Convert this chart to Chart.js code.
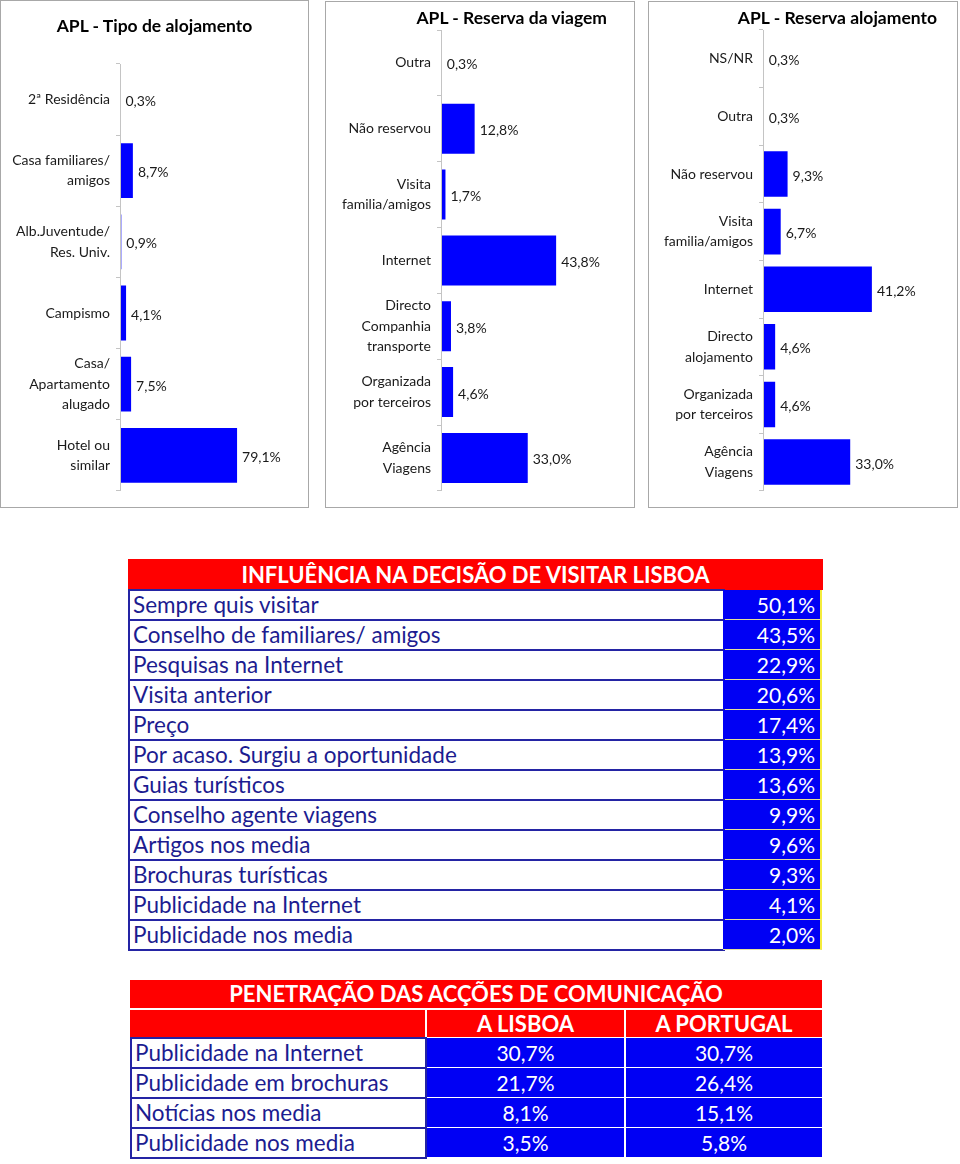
<!DOCTYPE html>
<html lang="pt">
<head>
<meta charset="UTF-8">
<title>APL - Alojamento e reserva</title>
<script src="https://cdn.jsdelivr.net/npm/chart.js"></script>
<style>
  body { margin: 0; width: 960px; height: 1164px; background: #fff; position: relative; font-family: Lato, "Open Sans", sans-serif; }
  .panel { position: absolute; border: 1px solid #a8a8a8; box-sizing: border-box; }
  .panel canvas { position: absolute; left: 0; top: 0; }
  .ptitle { position: absolute; font-weight: bold; font-size: 17.5px; line-height: 20px; color: #000; white-space: nowrap; }
  .cell { position: absolute; box-sizing: border-box; white-space: nowrap; font-size: 22.5px; line-height: 28px; }
  .head { background: #ff0000; color: #fff; font-weight: bold; text-align: center; font-size: 22px; }
  .lab { border: 2px solid #2424a4; color: #1c1c90; padding-left: 3px; background: #fff; }
  .val { background: #0000f4; color: #fff; font-size: 21px; }
</style>
</head>
<body>
<div class="panel" style="left:0;top:0;width:309px;height:508px"><canvas id="tipo" width="307" height="506"></canvas></div>
<div class="panel" style="left:325px;top:1px;width:310px;height:507px"><canvas id="viagem" width="308" height="505"></canvas></div>
<div class="panel" style="left:648px;top:1px;width:310px;height:507px"><canvas id="aloj" width="308" height="505"></canvas></div>
<div class="ptitle" style="left:0;top:16px;width:309px;text-align:center">APL - Tipo de alojamento</div>
<div class="ptitle" style="left:325px;top:8px;width:282px;text-align:right">APL - Reserva da viagem</div>
<div class="ptitle" style="left:648px;top:8px;width:289px;text-align:right">APL - Reserva alojamento</div>
<div id="tables"></div>

<script>
// APL - Tipo de alojamento
const tipoLabels = [["2ª Residência"], ["Casa familiares/", "amigos"], ["Alb.Juventude/", "Res. Univ."], ["Campismo"], ["Casa/", "Apartamento", "alugado"], ["Hotel ou", "similar"]];
const tipoValues = [0.3, 8.7, 0.9, 4.1, 7.5, 79.1];

// APL - Reserva da viagem
const viagemLabels = [["Outra"], ["Não reservou"], ["Visita", "familia/amigos"], ["Internet"], ["Directo", "Companhia", "transporte"], ["Organizada", "por terceiros"], ["Agência", "Viagens"]];
const viagemValues = [0.3, 12.8, 1.7, 43.8, 3.8, 4.6, 33.0];

// APL - Reserva alojamento
const alojLabels = [["NS/NR"], ["Outra"], ["Não reservou"], ["Visita", "familia/amigos"], ["Internet"], ["Directo", "alojamento"], ["Organizada", "por terceiros"], ["Agência", "Viagens"]];
const alojValues = [0.3, 0.3, 9.3, 6.7, 41.2, 4.6, 4.6, 33.0];

// Influência na decisão de visitar Lisboa
const influTitle = "INFLUÊNCIA NA DECISÃO DE VISITAR LISBOA";
const influLabels = ["Sempre quis visitar", "Conselho de familiares/ amigos", "Pesquisas na Internet", "Visita anterior", "Preço", "Por acaso. Surgiu a oportunidade", "Guias turísticos", "Conselho agente viagens", "Artigos nos media", "Brochuras turísticas", "Publicidade na Internet", "Publicidade nos media"];
const influValues = [50.1, 43.5, 22.9, 20.6, 17.4, 13.9, 13.6, 9.9, 9.6, 9.3, 4.1, 2.0];

// Penetração das acções de comunicação
const penetTitle = "PENETRAÇÃO DAS ACÇÕES DE COMUNICAÇÃO";
const penetCols = ["A LISBOA", "A PORTUGAL"];
const penetLabels = ["Publicidade na Internet", "Publicidade em brochuras", "Notícias nos media", "Publicidade nos media"];
const penetLisboa = [30.7, 21.7, 8.1, 3.5];
const penetPortugal = [30.7, 26.4, 15.1, 5.8];

const fmt = (v) => v.toFixed(1).replace(".", ",") + "%";

// writes the value next to the end of each bar, and puts the grey axis line back on top
const valueLabels = {
  id: "valueLabels",
  afterDatasetsDraw(chart) {
    const ctx = chart.ctx;
    const data = chart.data.datasets[0].data;
    const area = chart.chartArea;
    ctx.save();
    ctx.strokeStyle = "#c4c4c4";
    ctx.lineWidth = 1;
    ctx.beginPath();
    ctx.moveTo(area.left + 0.5, area.top);
    ctx.lineTo(area.left + 0.5, area.bottom);
    ctx.stroke();
    ctx.font = "14px Lato";
    ctx.fillStyle = "#1a1a1a";
    ctx.textBaseline = "middle";
    chart.getDatasetMeta(0).data.forEach((bar, i) => {
      ctx.fillText(fmt(data[i]), bar.x + 5, bar.y + 2);
    });
    ctx.restore();
  },
};

function makeChart(id, labels, values, o) {
  new Chart(document.getElementById(id), {
    type: "bar",
    data: {
      labels: labels,
      datasets: [{
        data: values,
        backgroundColor: "#0000ff",
        barPercentage: o.barPct,
        categoryPercentage: 1,
      }],
    },
    options: {
      indexAxis: "y",
      responsive: false,
      animation: false,
      layout: { padding: { top: o.top, bottom: o.bottom, right: o.right, left: 0 } },
      plugins: { legend: { display: false }, tooltip: { enabled: false } },
      scales: {
        x: { display: false, min: 0, max: o.max },
        y: {
          afterFit(scale) { scale.width = o.axis; },
          border: { color: "#c4c4c4" },
          grid: { drawOnChartArea: false, tickLength: 4, color: "#c4c4c4", offset: true },
          ticks: {
            autoSkip: false,
            padding: 6,
            color: "#1a1a1a",
            font: { family: "Lato", size: 14, lineHeight: 1.45 },
          },
        },
      },
    },
    plugins: [valueLabels],
  });
}

makeChart("tipo", tipoLabels, tipoValues, { axis: 119, top: 63, bottom: 15, right: 40, max: 100, barPct: 0.77 });
makeChart("viagem", viagemLabels, viagemValues, { axis: 115, top: 28, bottom: 0, right: 9, max: 70, barPct: 0.76 });
makeChart("aloj", alojLabels, alojValues, { axis: 114, top: 28, bottom: 3, right: 9, max: 70, barPct: 0.79 });

// tables
const wrap = document.getElementById("tables");
function box(x, y, w, h, cls, text, style) {
  const d = document.createElement("div");
  d.className = "cell " + cls;
  d.style.cssText = `left:${x}px;top:${y}px;width:${w}px;height:${h}px;` + (style || "");
  d.textContent = text;
  wrap.appendChild(d);
}

box(128, 559, 695, 31, "head", influTitle, "line-height:31px");
influLabels.forEach((lab, i) => {
  const y = 589 + i * 30;
  box(128, y, 597, 32, "lab", lab, "line-height:27px");
  box(723, y + 1, 99, 30, "val", fmt(influValues[i]),
    "text-align:right;padding-right:5px;border-right:2px solid #f4ec3c;border-bottom:1px solid #e6e29a;line-height:29px");
});

box(130, 980, 692, 28, "head", penetTitle, "line-height:28px");
box(130, 1010, 295, 27, "head", "");
box(427, 1010, 197, 27, "head", penetCols[0], "line-height:27px");
box(626, 1010, 196, 27, "head", penetCols[1], "line-height:27px");
penetLabels.forEach((lab, i) => {
  const y = 1038 + i * 30;
  box(130, y - 1, 297, 32, "lab", lab, "line-height:27px");
  box(427, y, 197, 29, "val", fmt(penetLisboa[i]), "text-align:center;line-height:29px");
  box(626, y, 196, 29, "val", fmt(penetPortugal[i]), "text-align:center;line-height:29px");
});
</script>
</body>
</html>
